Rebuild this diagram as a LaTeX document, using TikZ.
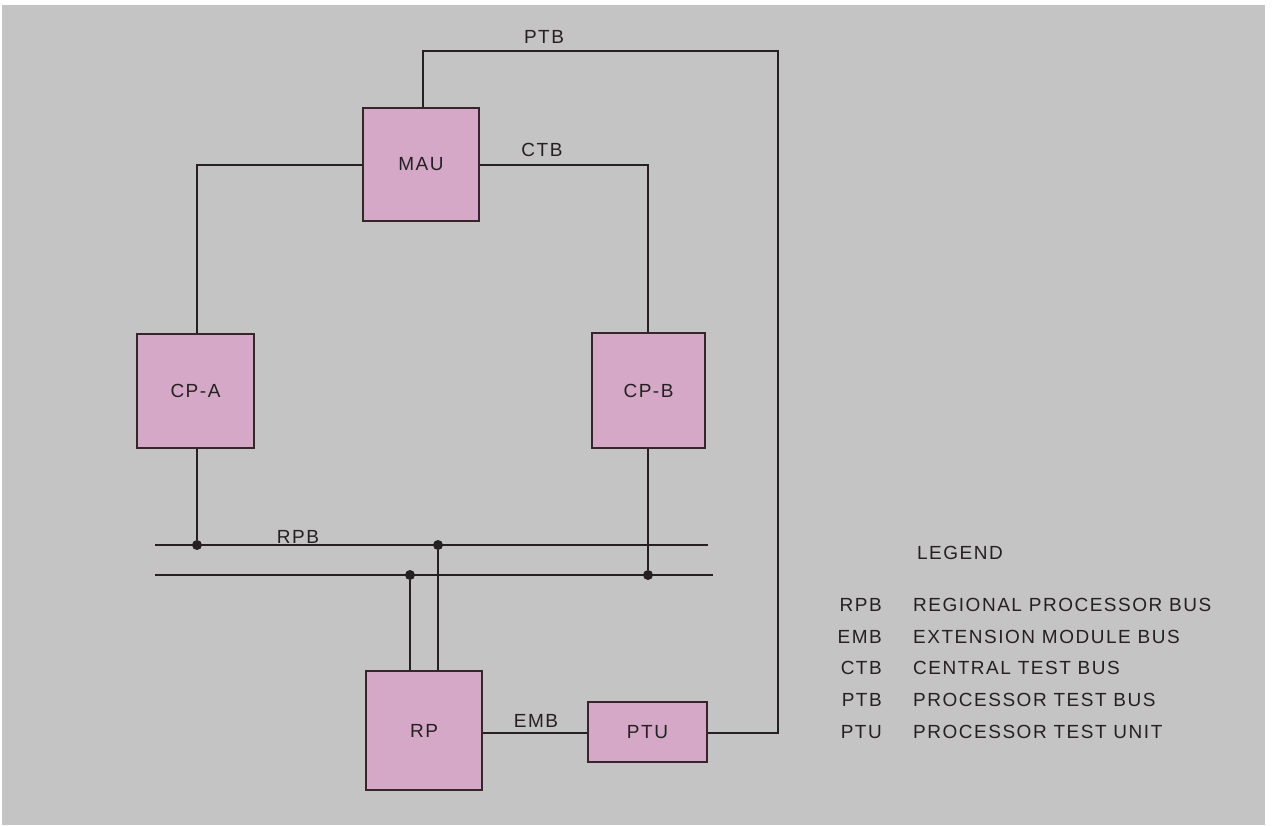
\documentclass[tikz,border=0pt]{standalone}
\usepackage{fontspec}
\setmainfont{Liberation Sans}[LetterSpace=8]
\definecolor{bg}{HTML}{C4C4C4}
\definecolor{boxfill}{HTML}{D4A8C6}
\definecolor{ink}{HTML}{262022}
\definecolor{boxline}{HTML}{362629}
\begin{document}
\begin{tikzpicture}[x=1pt,y=-1pt,
  unit/.style={draw=boxline,line width=2.8pt,fill=boxfill,inner sep=0pt,font=\fontsize{19}{21}\selectfont,text=ink},
  bus/.style={draw=ink,line width=1.9pt},
  lbl/.style={font=\fontsize{19}{21}\selectfont,text=ink,inner sep=0pt},
  tap/.style={circle,fill=ink,inner sep=0pt,minimum size=10pt}]
\useasboundingbox (0,0) rectangle (1273,825);
\fill[white] (0,0) rectangle (1273,825);
\fill[bg] (2,5) rectangle (1265,825);
% units
\node[unit,minimum width=116pt,minimum height=113pt] (mau) at (421,164.5) {MAU};
\node[unit,minimum width=117pt,minimum height=114pt] (cpa) at (195.5,391) {CP-A};
\node[unit,minimum width=113pt,minimum height=115pt] (cpb) at (648.5,390.5) {CP-B};
\node[unit,minimum width=116pt,minimum height=119pt] (rp) at (424,730.5) {RP};
\node[unit,minimum width=119pt,minimum height=60pt] (ptu) at (647.5,732) {PTU};
% bus end points
\coordinate (rpbAw) at (155,545);
\coordinate (rpbAe) at (708,545);
\coordinate (rpbBw) at (155,575);
\coordinate (rpbBe) at (713,575);
\draw[bus] (rpbAw) -- (rpbAe);
\draw[bus] (rpbBw) -- (rpbBe);
% taps
\node[tap] (tA) at (197,545) {};
\node[tap] (tB) at (648,575) {};
\node[tap] (tR1) at (410,575) {};
\node[tap] (tR2) at (438,545) {};
% connectors
\draw[bus] (mau.north -| 423,0) -- (423,51) -- (778,51) -- (778,733) -- (ptu.east |- 0,733);
\draw[bus] (mau.west |- 0,165) -- (197,165) -- (cpa.north -| 197,0);
\draw[bus] (mau.east |- 0,165) -- (648,165) -- (cpb.north -| 648,0);
\draw[bus] (cpa.south -| tA) -- (tA);
\draw[bus] (cpb.south -| tB) -- (tB);
\draw[bus] (rp.north -| tR1) -- (tR1);
\draw[bus] (rp.north -| tR2) -- (tR2);
\draw[bus] (rp.east |- 0,733) -- (ptu.west |- 0,733);
% bus labels
\node[lbl] (lptb) at (544,37) {PTB};
\node[lbl] (lctb) at (542,150) {CTB};
\node[lbl] (lrpb) at (298,537) {RPB};
\node[lbl] (lemb) at (536,721) {EMB};
% legend
\node[lbl] (leg) at (960,553) {LEGEND};
\foreach \ab/\txt/\yy [count=\i] in {RPB/REGIONAL PROCESSOR BUS/605, EMB/EXTENSION MODULE BUS/637, CTB/CENTRAL TEST BUS/668, PTB/PROCESSOR TEST BUS/700, PTU/PROCESSOR TEST UNIT/732}{
  \node[lbl,anchor=east] (ab\i) at (882,\yy) {\ab};
  \node[lbl,anchor=west] (tx\i) at (913,\yy) {\txt};
}
\end{tikzpicture}
\end{document}
